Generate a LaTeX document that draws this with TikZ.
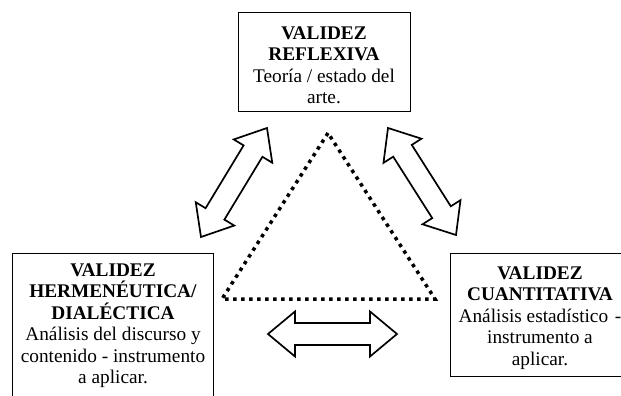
\documentclass[tikz,border=0pt]{standalone}
\usepackage{fontspec}
\setmainfont{Liberation Serif}
\usetikzlibrary{calc}

% thick outlined double arrow between two tips
\newcommand{\fatarrow}[2]{%
  \draw[fat] (#1)
    -- ($(#1)!27pt!(#2)!22.5pt!90:(#2)$) -- ($(#1)!27pt!(#2)!11pt!90:(#2)$)
    -- ($(#2)!27pt!(#1)!11pt!-90:(#1)$) -- ($(#2)!27pt!(#1)!22.5pt!-90:(#1)$)
    -- (#2)
    -- ($(#2)!27pt!(#1)!22.5pt!90:(#1)$) -- ($(#2)!27pt!(#1)!11pt!90:(#1)$)
    -- ($(#1)!27pt!(#2)!11pt!-90:(#2)$) -- ($(#1)!27pt!(#2)!22.5pt!-90:(#2)$)
    -- cycle;}

\begin{document}
\begin{tikzpicture}[x=1pt, y=-1pt,
  box/.style = {draw, line width=1pt, inner sep=0pt},
  txt/.style = {align=center, inner sep=0pt, yshift=-3.5pt, font=\fontsize{19.3}{21.5}\selectfont},
  fat/.style = {draw, line width=1.7pt, line join=miter, fill=white},
  dots/.style = {line width=3.5pt, dash pattern=on 3.5pt off 4.5pt}]
\useasboundingbox (0,0) rectangle (621,396);

% boxes
\node[box, minimum width=172pt, minimum height=98pt] (refl) at (324,62) {};
\node[txt] (refltxt) at (refl.center)
  {\textbf{VALIDEZ}\\ \textbf{REFLEXIVA}\\ Teoría / estado del\\ arte.};
\node[box, minimum width=201pt, minimum height=160pt, anchor=north west] (herm) at (12,253) {};
\node[txt] (hermtxt) at ($(herm.north)+(0,69)$)
  {\textbf{VALIDEZ}\\ \textbf{HERMENÉUTICA/}\\ \textbf{DIALÉCTICA}\\ Análisis del discurso y\\ contenido - instrumento\\ a aplicar.};
\node[box, minimum width=186pt, minimum height=123pt] (cuan) at (543,314.5) {};
\node[txt] (cuantxt) at ($(cuan.center)+(-3,0)$)
  {\textbf{VALIDEZ}\\ \textbf{CUANTITATIVA}\\ Análisis estadístico \hspace{0.1em}-\\ instrumento a\\ aplicar.};

% dotted triangle
\coordinate (top) at (328,133);
\coordinate (bl) at (222,299);
\coordinate (br) at (435,299);
\draw[dots] (top) -- (bl) -- (br) -- cycle;

% arrows
\coordinate (la) at (267,128);
\coordinate (lb) at (201,237);
\coordinate (ra) at (388,128);
\coordinate (rb) at (456,235);
\coordinate (ba) at (268,334);
\coordinate (bb) at (397,334);
\fatarrow{la}{lb}
\fatarrow{ra}{rb}
\fatarrow{ba}{bb}
\end{tikzpicture}
\end{document}
